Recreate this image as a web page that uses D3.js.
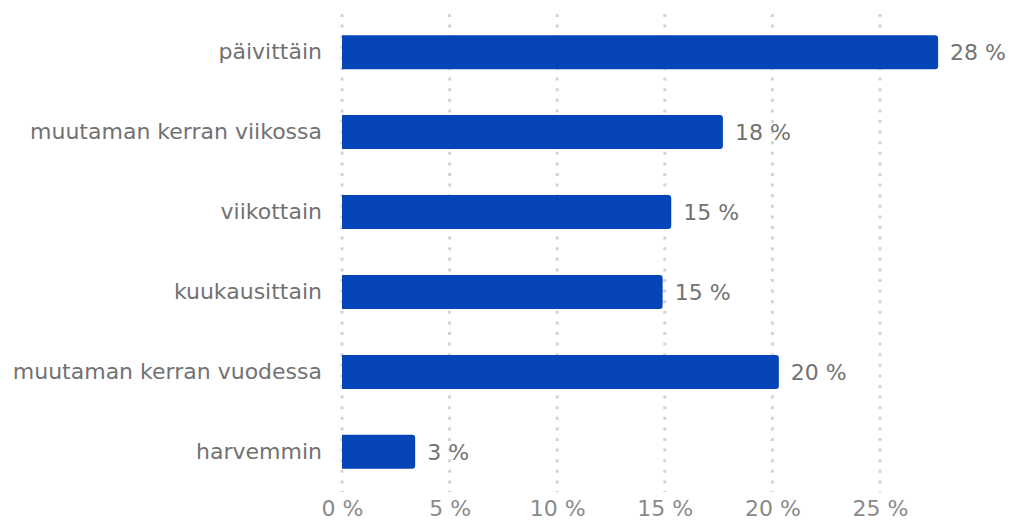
<!DOCTYPE html>
<html><head><meta charset="utf-8">
<script src="https://cdn.jsdelivr.net/npm/d3@7"></script>
<style>body{margin:0;background:#fff;} svg{display:block;}</style>
</head><body>
<svg id="c" width="1012" height="520"></svg>
<script>
const categories = ["päivittäin","muutaman kerran viikossa","viikottain","kuukausittain","muutaman kerran vuodessa","harvemmin"];
const values = [27.7, 17.7, 15.3, 14.9, 20.3, 3.4];
const valueLabels = ["28 %","18 %","15 %","15 %","20 %","3 %"];
const ticks = [0,5,10,15,20,25];
const tickLabels = ["0 %","5 %","10 %","15 %","20 %","25 %"];

const svg = d3.select("#c");
const font = "DejaVu Sans";
const x = d3.scaleLinear().domain([0,25]).range([342,880]);
const y = d3.scaleBand().domain(categories).range([12,492]).paddingInner(0.575).paddingOuter(0.29);

// grid
svg.append("g").selectAll("line").data(ticks).join("line")
  .attr("x1",d=>x(d)).attr("x2",d=>x(d)).attr("y1",14).attr("y2",492)
  .attr("stroke","#d4d4d4").attr("stroke-width",3).attr("stroke-dasharray","3,7.6");

// bars
const r=3;
svg.append("g").selectAll("path").data(values).join("path")
  .attr("d",(d,i)=>{
    const x0=x(0), x1=x(d), y0=y(categories[i]), h=y.bandwidth();
    return `M${x0},${y0}H${x1-r}Q${x1},${y0} ${x1},${y0+r}V${y0+h-r}Q${x1},${y0+h} ${x1-r},${y0+h}H${x0}Z`;
  })
  .attr("fill","#0645b7");

// value labels
svg.append("g").selectAll("text").data(values).join("text")
  .attr("x",d=>x(d)+12).attr("y",(d,i)=>y(categories[i])+y.bandwidth()/2)
  .attr("dy","0.35em").attr("font-family",font).attr("font-size",22).attr("fill","#727272")
  .text((d,i)=>valueLabels[i]);

// category labels
const yAxis = d3.axisLeft(y).tickSize(0).tickPadding(0);
const ga = svg.append("g").attr("transform","translate(322,0)").call(yAxis);
ga.select(".domain").remove();
ga.selectAll("text").attr("font-family",font).attr("font-size",22).attr("fill","#727272");

// x axis labels
const xAxis = d3.axisBottom(x).tickValues(ticks).tickFormat((d,i)=>tickLabels[i]).tickSize(0).tickPadding(0);
const gx = svg.append("g").attr("transform","translate(0,500)").call(xAxis);
gx.select(".domain").remove();
gx.selectAll("text").attr("font-family",font).attr("font-size",22).attr("fill","#8a8a8a");
</script>
</body></html>
